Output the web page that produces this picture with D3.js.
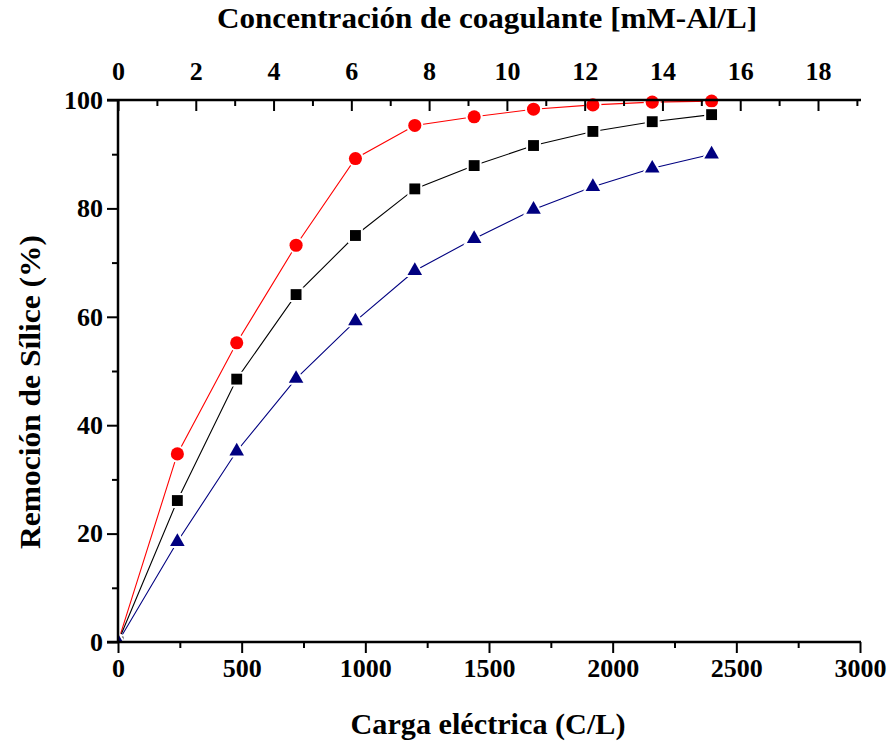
<!DOCTYPE html>
<html>
<head>
<meta charset="utf-8">
<script src="https://cdn.jsdelivr.net/npm/d3@7"></script>
<style>
  html, body { margin: 0; padding: 0; background: #fff; }
  svg { display: block; }
  text { font-family: "Liberation Serif", "Times New Roman", serif; font-weight: bold; fill: #000; }
</style>
</head>
<body>
<svg id="chart" width="889" height="744"></svg>
<script>
// ---- data ----
const charge = [0, 240, 480, 720, 960, 1200, 1440, 1680, 1920, 2160, 2400];
const redCircle = [0, 34.7, 55.2, 73.2, 89.2, 95.3, 96.9, 98.3, 99.1, 99.6, 99.8];
const blackSquare = [0, 26.1, 48.5, 64.1, 75.0, 83.6, 87.9, 91.6, 94.2, 96.0, 97.3];
const blueTriangle = [0, 18.5, 35.2, 48.6, 59.2, 68.5, 74.4, 79.8, 84.0, 87.4, 90.0];
const bottomTicks = [0, 500, 1000, 1500, 2000, 2500, 3000];
const leftTicks = [0, 20, 40, 60, 80, 100];
const topTicks = [0, 2, 4, 6, 8, 10, 12, 14, 16, 18];
const xDomain = [0, 3000];
const topDomain = [0, 19.08];
const yDomain = [0, 100];
const xTitle = "Carga eléctrica (C/L)";
const yTitle = "Remoción de Sílice (%)";
const topTitle = "Concentración de coagulante [mM-Al/L]";

const svg = d3.select("#chart");
const L = 118, R = 860, T = 100, B = 642;

const x = d3.scaleLinear().domain(xDomain).range([L, R]);
const xTop = d3.scaleLinear().domain(topDomain).range([L, R]);
const y = d3.scaleLinear().domain(yDomain).range([B, T]);

svg.append("defs").append("clipPath").attr("id", "plotclip")
  .append("rect").attr("x", L).attr("y", T - 10).attr("width", R - L + 10).attr("height", B - T + 10);

const series = [
  { vals: redCircle, color: "#ff0000", sym: d3.symbolCircle, size: 135 },
  { vals: blackSquare, color: "#000000", sym: d3.symbolSquare, size: 118 },
  { vals: blueTriangle, color: "#000080", sym: d3.symbolTriangle, size: 92 }
];

const plot = svg.append("g").attr("clip-path", "url(#plotclip)");
const line = d3.line().x((d, i) => x(charge[i])).y(d => y(d));

series.forEach(s => {
  plot.append("path").datum(s.vals)
    .attr("d", line).attr("fill", "none")
    .attr("stroke", s.color).attr("stroke-width", 1.1);
});
series.forEach(s => {
  plot.selectAll(null).data(s.vals).enter().append("path")
    .attr("d", d3.symbol().type(s.sym).size(s.size))
    .attr("transform", (d, i) => `translate(${x(charge[i])},${y(d)})`)
    .attr("fill", s.color)
    .attr("stroke", "#fff").attr("stroke-width", 4)
    .style("paint-order", "stroke");
});

// ---- axes ----
const axW = 2;
// bottom
const gB = svg.append("g").attr("transform", `translate(0,${B})`)
  .call(d3.axisBottom(x).tickValues(d3.range(0, 3001, 250)).tickSize(6).tickFormat(""));
gB.select(".domain").remove();
gB.selectAll(".tick line").attr("stroke-width", axW).filter(d => d % 500 === 0).attr("y2", 11);
svg.append("g").attr("transform", `translate(0,${B})`)
  .call(d3.axisBottom(x).tickValues(bottomTicks).tickSize(0).tickPadding(17).tickFormat(d3.format("d")))
  .call(g => g.select(".domain").remove())
  .selectAll("text").style("font-size", "26px").style("font-family", "Liberation Serif").style("font-weight", "bold");

// left
const gL = svg.append("g").attr("transform", `translate(${L},0)`)
  .call(d3.axisLeft(y).tickValues(d3.range(0, 101, 10)).tickSize(6).tickFormat(""));
gL.select(".domain").remove();
gL.selectAll(".tick line").attr("stroke-width", axW).filter(d => d % 20 === 0).attr("x2", -11);
svg.append("g").attr("transform", `translate(${L},0)`)
  .call(d3.axisLeft(y).tickValues(leftTicks).tickSize(0).tickPadding(15).tickFormat(d3.format("d")))
  .call(g => g.select(".domain").remove())
  .selectAll("text").style("font-size", "26px").style("font-family", "Liberation Serif").style("font-weight", "bold");

// top (ticks inward)
const gT = svg.append("g").attr("transform", `translate(0,${T})`)
  .call(d3.axisBottom(xTop).tickValues(d3.range(0, 19.5, 1)).tickSize(6).tickFormat(""));
gT.select(".domain").remove();
gT.selectAll(".tick line").attr("stroke-width", axW).filter(d => d % 2 === 0).attr("y2", 11);
svg.append("g").attr("transform", `translate(0,${T})`)
  .call(d3.axisTop(xTop).tickValues(topTicks).tickSize(0).tickPadding(20).tickFormat(d3.format("d")))
  .call(g => g.select(".domain").remove())
  .selectAll("text").style("font-size", "26px").style("font-family", "Liberation Serif").style("font-weight", "bold");

// axis lines
svg.append("line").attr("x1", L).attr("x2", L).attr("y1", T - 1).attr("y2", B + 1)
  .attr("stroke", "#000").attr("stroke-width", axW + 0.5);
svg.append("line").attr("x1", L - 11).attr("x2", R + 1).attr("y1", B).attr("y2", B)
  .attr("stroke", "#000").attr("stroke-width", axW + 0.5);
svg.append("line").attr("x1", L - 11).attr("x2", R + 1).attr("y1", T).attr("y2", T)
  .attr("stroke", "#000").attr("stroke-width", axW + 0.5);

// titles
svg.append("text").attr("x", 488).attr("y", 734).attr("text-anchor", "middle")
  .attr("textLength", 275).attr("lengthAdjust", "spacingAndGlyphs")
  .style("font-size", "29px").text(xTitle);
svg.append("text").attr("transform", "translate(40,392) rotate(-90)").attr("text-anchor", "middle")
  .attr("textLength", 314).attr("lengthAdjust", "spacingAndGlyphs")
  .style("font-size", "29px").text(yTitle);
svg.append("text").attr("x", 487).attr("y", 28).attr("text-anchor", "middle")
  .attr("textLength", 540).attr("lengthAdjust", "spacingAndGlyphs")
  .style("font-size", "30px").text(topTitle);
</script>
</body>
</html>
